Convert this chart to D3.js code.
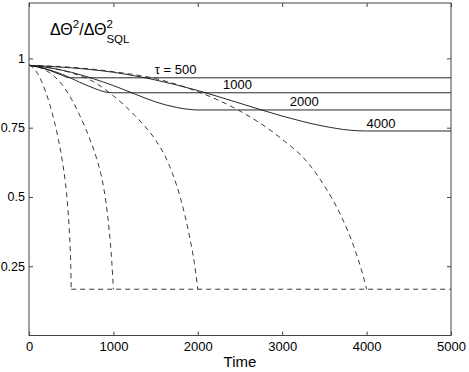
<!DOCTYPE html>
<html>
<head>
<meta charset="utf-8">
<script src="https://cdn.jsdelivr.net/npm/d3@7"></script>
<style>
  body { margin: 0; background: #fff; }
  text { font-family: "Liberation Sans", Arial, sans-serif; fill: #000; }
</style>
</head>
<body>
<div id="chart"></div>
<script>
// values: [time, value]
var solid500 = [[0, 0.975], [100, 0.971], [200, 0.962], [300, 0.950], [400, 0.938], [450, 0.932], [500, 0.930], [5000, 0.930]];
var solid1000 = [[0, 0.975], [200, 0.962], [400, 0.942], [600, 0.914], [800, 0.889], [900, 0.879], [1000, 0.876], [5000, 0.876]];
var solid2000 = [[0, 0.975], [250, 0.966], [500, 0.950], [750, 0.928], [1000, 0.902], [1250, 0.872], [1500, 0.843], [1750, 0.823], [1900, 0.816], [2000, 0.814], [5000, 0.814]];
var solid4000 = [[0, 0.975], [500, 0.966], [1000, 0.950], [1500, 0.922], [2000, 0.884], [2500, 0.838], [3000, 0.792], [3500, 0.755], [3800, 0.741], [4000, 0.738], [5000, 0.738]];

var dash500 = [[0, 0.975], [50, 0.966], [100, 0.946], [150, 0.916], [200, 0.877], [250, 0.83], [300, 0.773], [350, 0.705], [400, 0.62], [430, 0.555], [460, 0.46], [480, 0.365], [495, 0.25], [500, 0.167]];
var dash1000 = [[0, 0.975], [100, 0.970], [200, 0.957], [300, 0.935], [400, 0.902], [500, 0.855], [600, 0.795], [700, 0.725], [800, 0.64], [850, 0.585], [900, 0.505], [950, 0.38], [980, 0.27], [1000, 0.167]];
var dash2000 = [[0, 0.975], [250, 0.966], [500, 0.948], [750, 0.918], [1000, 0.865], [1250, 0.795], [1500, 0.705], [1600, 0.655], [1700, 0.585], [1800, 0.49], [1900, 0.36], [1960, 0.26], [2000, 0.167]];
var dash4000 = [[0, 0.975], [500, 0.968], [1000, 0.952], [1500, 0.927], [2000, 0.880], [2500, 0.810], [3000, 0.708], [3300, 0.625], [3500, 0.54], [3700, 0.43], [3850, 0.32], [3950, 0.225], [4000, 0.167]];
// dashed floor after the drop
var floorLine = [[500, 0.167], [5000, 0.167]];

var curveLabels = ["\u03c4 = 500", "1000", "2000", "4000"];
var labelTimes = [1490, 2300, 3090, 4000];
var plateaus = [0.930, 0.876, 0.814, 0.738];

var xTicks = [0, 1000, 2000, 3000, 4000, 5000];
var yTicks = [0.25, 0.5, 0.75, 1];

var width = 469, height = 372;
var margin = { top: 3, right: 18, bottom: 36.5, left: 29 };
var w = width - margin.left - margin.right;
var h = height - margin.top - margin.bottom;

var svg = d3.select("#chart").append("svg")
  .attr("width", width)
  .attr("height", height);

var g = svg.append("g")
  .attr("transform", "translate(" + margin.left + "," + margin.top + ")");

var x = d3.scaleLinear().domain([0, 5000]).range([0, w]);
var y = d3.scaleLinear().domain([0, 1.2]).range([h, 0]);

var line = d3.line()
  .x(function(d) { return x(d[0]); })
  .y(function(d) { return y(d[1]); })
  .curve(d3.curveMonotoneX);

// solid curves
[solid500, solid1000, solid2000, solid4000].forEach(function(s) {
  g.append("path")
    .attr("d", line(s))
    .attr("fill", "none")
    .attr("stroke", "#111")
    .attr("stroke-width", 0.9);
});

// dashed curves
[dash500, dash1000, dash2000, dash4000, floorLine].forEach(function(s) {
  g.append("path")
    .attr("d", line(s))
    .attr("fill", "none")
    .attr("stroke", "#222")
    .attr("stroke-width", 0.9)
    .attr("stroke-dasharray", "5,4");
});

// curve labels
curveLabels.forEach(function(t, i) {
  g.append("text")
    .attr("x", x(labelTimes[i]))
    .attr("y", y(plateaus[i]) - 3.5)
    .attr("font-size", "13px")
    .text(t);
});

// axes, ticks pointing inward on all four sides
var axisColor = "#444";
g.append("g")
  .attr("transform", "translate(0," + h + ")")
  .call(d3.axisBottom(x).tickValues(xTicks).tickSizeInner(-4).tickSizeOuter(0).tickFormat(d3.format("d")))
  .call(function(a) {
    a.selectAll("text").attr("font-size", "13px").attr("dy", "0.71em").attr("y", 6);
  });
g.append("g")
  .call(d3.axisTop(x).tickValues(xTicks).tickSizeInner(-4).tickSizeOuter(0).tickFormat(""));
g.append("g")
  .call(d3.axisLeft(y).tickValues(yTicks).tickSizeInner(-4).tickSizeOuter(0).tickPadding(4).tickFormat(d3.format("")))
  .call(function(a) {
    a.selectAll("text").attr("font-size", "12.5px");
  });
g.append("g")
  .attr("transform", "translate(" + w + ",0)")
  .call(d3.axisRight(y).tickValues(yTicks).tickSizeInner(-4).tickSizeOuter(0).tickFormat(""));

g.selectAll(".domain").remove();
g.selectAll(".tick line").attr("stroke", axisColor);
g.selectAll(".tick text").attr("fill", "#000").attr("font-family", "Liberation Sans, Arial, sans-serif");

g.append("rect")
  .attr("width", w)
  .attr("height", h)
  .attr("fill", "none")
  .attr("stroke", axisColor)
  .attr("stroke-width", 1);

// x title
g.append("text")
  .attr("x", w / 2)
  .attr("y", h + 31)
  .attr("text-anchor", "middle")
  .attr("font-size", "15px")
  .text("Time");

// y title in the corner: ΔΘ²/ΔΘ²_SQL
var yl = g.append("text")
  .attr("x", 21)
  .attr("y", 32)
  .attr("font-size", "16px");
yl.append("tspan").text("\u0394\u0398");
yl.append("tspan").attr("font-size", "11.5px").attr("dy", -7).text("2");
yl.append("tspan").attr("dy", 7).text("/\u0394\u0398");
var sup2 = yl.append("tspan").attr("font-size", "11.5px").attr("dy", -7).text("2");
var supW = sup2.node().getComputedTextLength();
yl.append("tspan").attr("font-size", "11.5px").attr("dx", -supW).attr("dy", 15).text("SQL");
</script>
</body>
</html>
